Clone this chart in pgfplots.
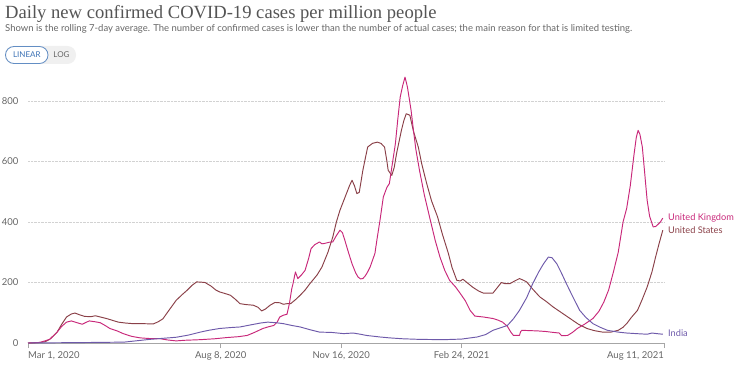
\documentclass[border=0pt]{standalone}
\usepackage{fontspec}
\setmainfont{Lato}
\newfontfamily\titlefont{Liberation Serif}
\usepackage{pgfplots}
\pgfplotsset{compat=1.18}
\definecolor{ukc}{HTML}{C8287A}
\definecolor{usc}{HTML}{8A4048}
\definecolor{inc}{HTML}{6E5AAA}
\definecolor{txt}{HTML}{666666}
\definecolor{ttl}{HTML}{555555}
\definecolor{btn}{HTML}{3C72B5}
\begin{document}
\begin{tikzpicture}[x=1pt,y=1pt]
\useasboundingbox (0,0) rectangle (743,370);
\node[anchor=base west, inner sep=0pt, text=ttl, font=\titlefont\fontsize{18.6}{21}\selectfont] at (5,351) {Daily new confirmed COVID-19 cases per million people};
\node[anchor=base west, inner sep=0pt, text=txt, font=\fontsize{9.5}{11}\selectfont] at (5,338) {Shown is the rolling 7-day average. The number of confirmed cases is lower than the number of actual cases; the main reason for that is limited testing.};
% buttons
\fill[gray!12, rounded corners=8.5pt] (5,306) rectangle (76,324);
\draw[btn!80, fill=white, rounded corners=8.5pt, line width=0.8pt] (5.5,306.5) rectangle (48,323.5);
\node[text=btn, font=\fontsize{8}{9}\selectfont] at (26.8,315) {LINEAR};
\node[text=txt, font=\fontsize{8}{9}\selectfont] at (61.5,315) {LOG};
\begin{axis}[
  at={(28pt,27pt)}, anchor=south west,
  scale only axis, width=636pt, height=266.2pt,
  xmin=0, xmax=528, ymin=0, ymax=880,
  clip=false,
  axis x line*=bottom, axis y line*=left,
  x axis line style={-, color=gray!70, line width=0.6pt},
  y axis line style={draw=none},
  xtick={0,160,260,360,528}, xticklabels={},
  x tick style={color=gray!70, line width=0.6pt},
  major tick length=5pt, tick align=outside,
  ytick={0,200,400,600,800},
  y tick style={draw=none},
  ymajorgrids, grid style={densely dotted, color=gray!35, line width=0.6pt},
  /pgf/number format/assume math mode=true,
  yticklabel style={font=\fontsize{9.5}{11}\selectfont, text=txt, xshift=-1pt},
  every axis plot/.append style={line width=0.95pt, line join=round},
]
\addplot[usc] coordinates {(0,0)(8,1)(14,4)(18,12)(24,35)(28,62)(32,86)(36,96)(39,99)(43,93)(47,88)(52,87)(56,90)(61,85)(66,80)(70,75)(75,69)(81,66)(87,64)(95,64)(104,63)(108,70)(112,80)(117,108)(123,141)(128,160)(132,174)(136,190)(140,202)(144,201)(147,200)(152,188)(156,175)(159,169)(164,163)(168,158)(172,145)(176,130)(181,127)(187,125)(191,118)(194,106)(197,112)(201,125)(205,134)(209,133)(212,128)(215,130)(218,130)(222,143)(226,158)(230,175)(234,196)(240,225)(244,251)(249,300)(253,350)(256,400)(259,439)(263,480)(267,521)(269,538)(271,520)(273,494)(275,498)(278,571)(280,610)(282,648)(286,660)(290,664)(293,660)(296,648)(298,600)(299,571)(302,554)(304,580)(306,627)(308,665)(310,703)(312,735)(314,758)(317,753)(320,700)(324,648)(327,590)(331,527)(335,470)(340,417)(344,360)(349,296)(352,250)(356,207)(359,205)(361,211)(365,198)(369,185)(374,172)(378,165)(386,165)(389,180)(393,200)(396,196)(400,196)(404,205)(408,213)(411,208)(414,202)(419,178)(425,152)(430,138)(436,119)(443,100)(450,81)(457,62)(464,48)(470,41)(477,36)(484,36)(490,42)(494,52)(497,64)(501,85)(506,108)(510,145)(514,185)(518,235)(521,284)(524,330)(527,373)};
\addplot[ukc] coordinates {(0,0)(10,2)(18,12)(24,35)(28,55)(32,69)(36,73)(40,68)(45,62)(48,68)(51,73)(56,70)(60,67)(64,58)(68,48)(74,40)(79,31)(86,22)(93,17)(100,15)(110,14)(116,10)(123,7)(130,9)(143,11)(155,14)(165,18)(175,21)(182,25)(188,35)(195,48)(200,54)(204,58)(207,70)(209,86)(212,92)(215,95)(217,130)(219,180)(220,196)(222,235)(224,213)(227,225)(230,240)(233,280)(235,312)(238,325)(242,334)(244,328)(246,329)(250,333)(253,334)(256,355)(259,373)(261,365)(263,340)(266,300)(269,262)(272,232)(274,218)(276,212)(278,213)(280,222)(282,235)(284,251)(288,296)(290,350)(292,400)(295,483)(298,515)(300,527)(302,580)(305,659)(307,740)(309,813)(311,850)(313,879)(315,846)(318,770)(320,703)(322,640)(325,571)(329,490)(334,406)(338,340)(342,284)(346,240)(350,207)(355,185)(359,163)(363,140)(367,108)(371,89)(378,86)(386,81)(390,76)(394,69)(398,55)(401,35)(403,25)(406,25)(408,25)(409,38)(410,42)(416,41)(423,40)(430,38)(436,35)(441,33)(443,24)(448,25)(452,35)(456,48)(462,62)(469,81)(474,105)(478,135)(482,175)(486,235)(490,300)(494,400)(497,445)(500,520)(503,620)(505,680)(506.5,703)(508,690)(510,648)(512,560)(514,472)(516,420)(519,384)(521,385)(523,392)(525,400)(527,413)};
\addplot[inc] coordinates {(0,0)(30,1)(60,2)(80,3)(101,12)(123,19)(133,26)(143,36)(150,42)(159,48)(168,51)(176,53)(185,60)(193,66)(199,69)(206,67)(212,64)(219,58)(226,53)(234,44)(242,36)(252,35)(262,31)(270,33)(276,29)(281,25)(292,20)(300,17)(311,14)(325,12)(345,11)(360,13)(373,20)(380,28)(386,42)(392,50)(398,58)(403,80)(408,108)(414,150)(419,196)(424,235)(428,262)(432,284)(435,282)(439,262)(443,230)(447,196)(452,155)(458,108)(463,85)(469,64)(475,52)(481,42)(490,36)(497,33)(505,31)(514,29)(518,33)(522,31)(527,29)};
% x tick labels
\node[anchor=base west, inner sep=0pt, text=txt, font=\fontsize{9.5}{11}\selectfont, yshift=-15pt] at (axis cs:0,0) {Mar 1, 2020};
\node[anchor=base, inner sep=0pt, text=txt, font=\fontsize{9.5}{11}\selectfont, yshift=-15pt] at (axis cs:160,0) {Aug 8, 2020};
\node[anchor=base, inner sep=0pt, text=txt, font=\fontsize{9.5}{11}\selectfont, yshift=-15pt] at (axis cs:260,0) {Nov 16, 2020};
\node[anchor=base, inner sep=0pt, text=txt, font=\fontsize{9.5}{11}\selectfont, yshift=-15pt] at (axis cs:360,0) {Feb 24, 2021};
\node[anchor=base east, inner sep=0pt, text=txt, font=\fontsize{9.5}{11}\selectfont, yshift=-15pt] at (axis cs:528,0) {Aug 11, 2021};
% series labels
\node[anchor=west, inner sep=0pt, text=ukc, font=\fontsize{9.2}{11}\selectfont, xshift=4pt] at (axis cs:528,415) {United Kingdom};
\node[anchor=west, inner sep=0pt, text=usc, font=\fontsize{9.2}{11}\selectfont, xshift=4pt] at (axis cs:528,372) {United States};
\node[anchor=west, inner sep=0pt, text=inc, font=\fontsize{9.2}{11}\selectfont, xshift=4pt] at (axis cs:528,31) {India};
\end{axis}
\end{tikzpicture}
\end{document}
